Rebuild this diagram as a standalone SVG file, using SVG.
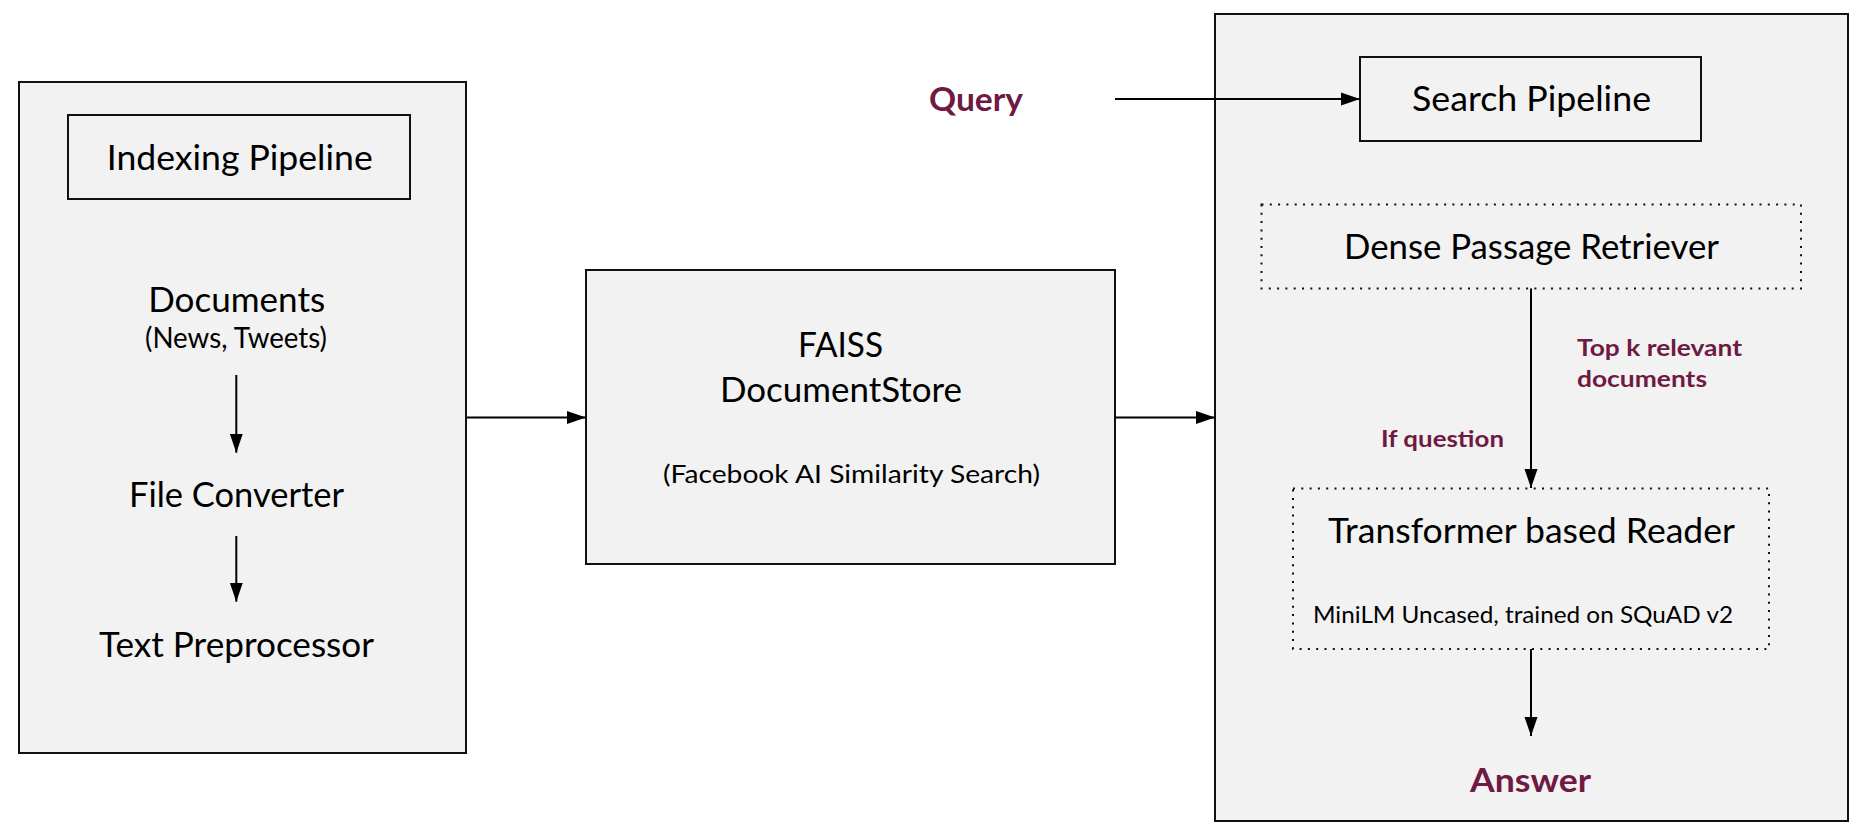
<svg xmlns="http://www.w3.org/2000/svg" width="1867" height="835" viewBox="0 0 1867 835">
  <style>
    .box { fill: #f2f2f2; stroke: #111; stroke-width: 2; }
    .dot { fill: #f2f2f2; stroke: #111; stroke-width: 2; stroke-dasharray: 2 6.3; }
    .t { font-family: Lato, "Source Sans Pro", "Noto Sans", sans-serif; fill: #000; text-anchor: middle; }
    .big { font-size: 34px; }
    .mid { font-size: 28px; }
    .small { font-size: 25px; }
    .em { font-family: Lato, "Noto Sans", sans-serif; font-weight: bold; fill: #6e1a43; }
    .conn line { stroke: #000; stroke-width: 2; }
  </style>
  <defs>
    <marker id="arr" markerUnits="userSpaceOnUse" markerWidth="20" markerHeight="14" refX="19" refY="7" orient="auto">
      <path d="M0,0.5 L19,7 L0,13.5 z" fill="#000"/>
    </marker>
  </defs>
  <rect width="1867" height="835" fill="#fff"/>

  <g id="indexing-group">
    <rect class="box" x="19" y="82" width="447" height="671"/>
  </g>
  <g id="indexing-pipeline">
    <rect class="box" x="68" y="115" width="342" height="84"/>
    <text class="t big" x="239.7" y="170" textLength="266" lengthAdjust="spacingAndGlyphs">Indexing Pipeline</text>
  </g>
  <g id="documents">
    <text class="t big" x="236.7" y="311.7" textLength="177" lengthAdjust="spacingAndGlyphs">Documents</text>
    <text class="t mid" x="236" y="348" textLength="182" lengthAdjust="spacingAndGlyphs">(News, Tweets)</text>
  </g>
  <g id="file-converter">
    <text class="t big" x="236.5" y="506.7" textLength="215" lengthAdjust="spacingAndGlyphs">File Converter</text>
  </g>
  <g id="text-preprocessor">
    <text class="t big" x="236.5" y="656.7" textLength="275" lengthAdjust="spacingAndGlyphs">Text Preprocessor</text>
  </g>

  <g id="faiss">
    <rect class="box" x="586" y="270" width="529" height="294"/>
    <text class="t big" x="840.5" y="356.7" textLength="85" lengthAdjust="spacingAndGlyphs">FAISS</text>
    <text class="t big" x="841" y="401.7" textLength="242" lengthAdjust="spacingAndGlyphs">DocumentStore</text>
    <text class="t small" x="851.5" y="483" textLength="377" lengthAdjust="spacingAndGlyphs">(Facebook AI Similarity Search)</text>
  </g>

  <g id="query">
    <text class="em" x="976" y="111" font-size="33" text-anchor="middle" textLength="94" lengthAdjust="spacingAndGlyphs">Query</text>
  </g>

  <g id="search-group">
    <rect class="box" x="1215" y="14" width="633" height="807"/>
  </g>
  <g id="search-pipeline">
    <rect class="box" x="1360" y="57" width="341" height="84"/>
    <text class="t big" x="1531.5" y="111" textLength="239" lengthAdjust="spacingAndGlyphs">Search Pipeline</text>
  </g>
  <g id="retriever">
    <rect class="dot" x="1261.5" y="204.5" width="539.5" height="84"/>
    <text class="t big" x="1531.5" y="259.3" textLength="375" lengthAdjust="spacingAndGlyphs">Dense Passage Retriever</text>
  </g>
  <g id="reader">
    <rect class="dot" x="1293" y="488.5" width="476" height="160.5"/>
    <text class="t big" x="1531.5" y="542.7" textLength="407" lengthAdjust="spacingAndGlyphs">Transformer based Reader</text>
    <text class="t" x="1523" y="622.7" font-size="23" textLength="420" lengthAdjust="spacingAndGlyphs">MiniLM Uncased, trained on SQuAD v2</text>
  </g>
  <g id="answer">
    <text class="em" x="1530.5" y="791.7" font-size="33" text-anchor="middle" textLength="121" lengthAdjust="spacingAndGlyphs">Answer</text>
  </g>

  <g id="connectors" class="conn">
    <line x1="236.3" y1="375" x2="236.3" y2="452.7" marker-end="url(#arr)"/>
    <line x1="236.3" y1="536" x2="236.3" y2="601.7" marker-end="url(#arr)"/>
    <line x1="466" y1="417.5" x2="586" y2="417.5" marker-end="url(#arr)"/>
    <line x1="1115" y1="417.5" x2="1215" y2="417.5" marker-end="url(#arr)"/>
    <line x1="1115" y1="99" x2="1360" y2="99" marker-end="url(#arr)"/>
    <line x1="1531" y1="288.5" x2="1531" y2="488" marker-end="url(#arr)"/>
    <line x1="1531" y1="649" x2="1531" y2="736" marker-end="url(#arr)"/>
    <text class="em" x="1577" y="356" font-size="22" textLength="165" lengthAdjust="spacingAndGlyphs">Top k relevant</text>
    <text class="em" x="1577" y="386.7" font-size="22" textLength="130" lengthAdjust="spacingAndGlyphs">documents</text>
    <text class="em" x="1381" y="447.3" font-size="22" textLength="123" lengthAdjust="spacingAndGlyphs">If question</text>
  </g>
</svg>
